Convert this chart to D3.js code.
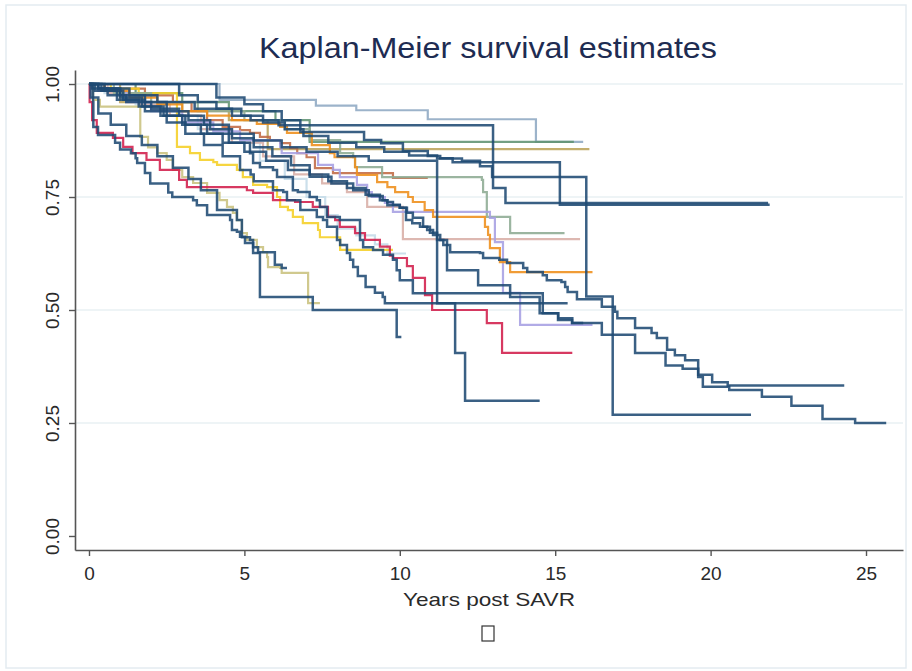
<!DOCTYPE html>
<html>
<head>
<meta charset="utf-8">
<script src="https://cdn.jsdelivr.net/npm/d3@7"></script>
<style>
body { margin: 0; background: #ffffff; }
text { font-family: "Liberation Sans", Arial, Helvetica, sans-serif; }
</style>
</head>
<body>
<svg id="graph"></svg>
<script>
// survival curves: [years, survival] pairs, last pair = end of follow-up
var kmA = [[0,1],[0.3,0.99],[1.0,0.975],[1.8,0.96],[2.5,0.94],[3.2,0.92],[3.9,0.90],[4.6,0.88],[5.3,0.86],[5.9,0.84],[6.5,0.82],[7.1,0.80],[7.7,0.785],[8.3,0.77],[8.9,0.755],[9.36,0.743],[9.6,0.739],[9.78,0.733],[10.0,0.726],[10.23,0.715],[10.42,0.704],[10.75,0.684],[10.97,0.671],[11.2,0.655],[11.4,0.644],[11.62,0.628],[12.58,0.626],[12.68,0.615],[13.2,0.611],[13.45,0.604],[13.97,0.593],[14.1,0.584],[14.6,0.577],[14.73,0.566],[15.2,0.562],[15.32,0.551],[15.4,0.540],[15.7,0.524],[16.5,0.507],[16.92,0.496],[17.0,0.482],[17.57,0.46],[18.1,0.449],[18.27,0.438],[18.6,0.412],[18.85,0.40],[19.18,0.389],[19.6,0.352],[19.75,0.330],[20.6,0.323],[21.65,0.308],[22.6,0.288],[23.6,0.259],[24.65,0.25],[25.65,0.25]]
var kmB = [[0,1],[0.2,0.985],[0.9,0.965],[1.6,0.95],[2.3,0.93],[3.0,0.91],[3.6,0.89],[4.3,0.87],[5.0,0.85],[5.7,0.83],[6.4,0.81],[7.1,0.795],[7.8,0.78],[8.5,0.765],[9.0,0.752],[9.45,0.743],[9.6,0.732],[10.0,0.726],[10.2,0.699],[10.4,0.692],[10.65,0.684],[10.88,0.677],[11.07,0.666],[11.3,0.655],[11.52,0.588],[12.52,0.555],[13.55,0.529],[14.5,0.493],[15.09,0.478],[15.54,0.471],[16.5,0.445],[17.57,0.405],[18.55,0.377],[19.1,0.37],[19.6,0.357],[20.05,0.34],[20.55,0.333],[24.3,0.333]]
var kmC = [[0,1],[2.9,0.975],[3.5,0.96],[4.1,0.945],[4.9,0.93],[5.6,0.915],[6.3,0.90],[6.9,0.885],[7.7,0.87],[8.6,0.86],[9.5,0.85],[10.3,0.842],[11.2,0.835],[12.0,0.83],[12.58,0.818],[12.97,0.794],[16.0,0.53],[16.85,0.268],[21.3,0.268]]
var kmD1 = [[0,1],[4.1,0.97],[5.0,0.955],[5.6,0.94],[6.2,0.92],[6.8,0.894],[8.85,0.876],[9.4,0.869],[10.1,0.852],[10.9,0.841],[11.3,0.836],[11.7,0.827],[15.15,0.733],[21.9,0.733]]
var kmD2 = [[0,1],[0.5,0.99],[1.3,0.975],[2.2,0.96],[3.4,0.945],[4.6,0.93],[5.2,0.92],[6.1,0.909],[13.0,0.77],[13.4,0.737],[21.85,0.737]]
var kmM = [[0,1],[0.1,0.99],[0.6,0.975],[1.2,0.96],[2.0,0.945],[2.9,0.93],[3.7,0.91],[4.5,0.89],[5.3,0.875],[6.2,0.86],[7.0,0.85],[8.0,0.84],[9.0,0.83],[11.2,0.515],[11.78,0.405],[12.1,0.299],[14.5,0.299]]
var kmN = [[0,1],[0.05,0.97],[0.3,0.935],[0.7,0.91],[1.2,0.885],[1.7,0.865],[2.2,0.84],[2.7,0.815],[3.2,0.79],[3.6,0.765],[4.12,0.721],[4.76,0.699],[4.92,0.661],[5.18,0.655],[5.28,0.626],[5.5,0.529],[7.2,0.50],[9.9,0.44],[10.05,0.44]]
var kmU = [[0,1],[0.4,0.985],[1.1,0.965],[1.8,0.94],[2.5,0.915],[3.1,0.89],[3.7,0.865],[4.3,0.84],[4.86,0.81],[5.2,0.80],[5.3,0.785],[5.92,0.765],[6.25,0.761],[6.37,0.743],[6.8,0.721],[7.33,0.706],[7.53,0.699],[7.66,0.684],[7.98,0.655],[8.08,0.644],[8.3,0.626],[8.4,0.611],[8.5,0.595],[8.65,0.575],[8.9,0.551],[9.2,0.538],[9.45,0.529],[9.52,0.515],[15.4,0.515]]
var kmV = [[0,1],[0.13,0.96],[0.14,0.905],[0.29,0.887],[0.84,0.87],[1.0,0.855],[1.35,0.847],[1.5,0.836],[1.55,0.825],[1.8,0.803],[1.97,0.78],[2.55,0.76],[2.68,0.75],[3.35,0.743],[3.47,0.732],[3.8,0.71],[4.54,0.699],[4.6,0.677],[4.76,0.673],[4.86,0.662],[5.02,0.648],[5.28,0.639],[5.44,0.628],[5.98,0.6],[6.2,0.593],[6.37,0.593]]
var kmW = [[0,1],[0.3,0.99],[1.0,0.97],[1.7,0.95],[2.4,0.93],[3.1,0.91],[3.8,0.89],[4.5,0.87],[5.18,0.847],[5.28,0.825],[5.5,0.816],[5.92,0.81],[6.05,0.794],[6.56,0.765],[6.72,0.761],[7.1,0.75],[7.33,0.743],[7.43,0.728],[7.66,0.706],[8.07,0.699],[8.72,0.655],[8.82,0.639],[9.14,0.633],[9.46,0.622],[9.78,0.611],[9.9,0.588],[10.0,0.566],[10.42,0.537],[14.6,0.493],[15.1,0.482],[15.55,0.471],[15.9,0.471]]
var kmE = [[0,1],[4.2,0.965],[7.3,0.952],[8.6,0.942],[10.9,0.922],[14.38,0.872],[15.9,0.872]]
var kmF = [[0,1],[1.5,0.98],[3.0,0.96],[4.5,0.94],[6.0,0.92],[7.1,0.872],[15.6,0.872]]
var kmG = [[0,1],[1.0,0.96],[3.0,0.94],[4.5,0.92],[5.75,0.856],[16.1,0.856]]
var kmH = [[0,1],[0.5,0.985],[1.3,0.97],[2.2,0.955],[3.0,0.94],[3.8,0.93],[4.6,0.92],[5.4,0.912],[6.15,0.905],[6.37,0.892],[7.17,0.865],[7.75,0.847],[7.9,0.838],[8.56,0.816],[8.62,0.799],[9.27,0.783],[9.6,0.772],[9.85,0.761],[10.27,0.75],[10.42,0.739],[10.8,0.721],[11.07,0.706],[12.74,0.684],[12.84,0.666],[12.9,0.637],[13.22,0.606],[13.55,0.584],[16.2,0.584]]
var kmI = [[0,1],[0.8,0.98],[2.0,0.96],[3.5,0.94],[5.0,0.92],[6.3,0.90],[7.1,0.876],[8.08,0.847],[8.5,0.838],[8.56,0.816],[9.43,0.794],[12.64,0.788],[12.68,0.761],[12.8,0.706],[13.55,0.670],[15.3,0.670]]
var kmJ = [[0,1],[0.6,0.98],[1.6,0.955],[2.6,0.93],[3.6,0.90],[4.6,0.87],[5.6,0.84],[6.6,0.80],[7.5,0.78],[8.3,0.761],[8.95,0.728],[10.1,0.657],[15.8,0.657]]
var kmK = [[0,1],[0.3,0.985],[1.2,0.96],[2.0,0.94],[3.0,0.915],[4.0,0.895],[4.86,0.876],[6.15,0.861],[6.2,0.847],[7.37,0.821],[7.85,0.81],[8.07,0.794],[8.62,0.777],[8.95,0.761],[9.1,0.75],[9.52,0.737],[9.78,0.717],[12.9,0.704],[13.06,0.650],[13.32,0.538],[13.87,0.467],[16.2,0.467]]
var kmL = [[0,1],[0.02,0.96],[0.1,0.92],[0.25,0.892],[0.77,0.881],[1.1,0.861],[1.4,0.847],[1.85,0.832],[2.28,0.81],[2.9,0.788],[3.15,0.772],[5.08,0.765],[5.28,0.759],[5.92,0.743],[6.63,0.739],[7.2,0.728],[7.69,0.706],[7.92,0.699],[8.07,0.684],[8.56,0.670],[8.88,0.655],[9.36,0.64],[9.68,0.62],[9.78,0.615],[10.23,0.597],[10.42,0.571],[10.81,0.533],[11.04,0.50],[12.8,0.471],[13.29,0.405],[15.55,0.405]]
var kmP = [[0,1],[0.13,0.965],[0.35,0.95],[1.65,0.883],[1.9,0.86],[2.2,0.847],[2.5,0.832],[2.7,0.81],[3.0,0.794],[3.35,0.781],[3.8,0.759],[4.2,0.743],[4.44,0.728],[4.63,0.715],[4.76,0.699],[4.92,0.67],[5.08,0.655],[5.4,0.639],[5.6,0.628],[5.73,0.617],[5.76,0.595],[6.15,0.593],[6.2,0.582],[7.05,0.515],[7.43,0.515]]
var kmQ = [[0,1],[0.7,0.99],[1.6,0.98],[2.83,0.861],[3.25,0.847],[3.57,0.832],[4.0,0.827],[4.12,0.821],[4.76,0.81],[4.95,0.794],[5.28,0.777],[5.73,0.772],[6.05,0.75],[6.15,0.728],[6.4,0.721],[6.56,0.706],[6.88,0.692],[7.37,0.677],[7.43,0.661],[8.08,0.633],[9.78,0.633]]
var kmR = [[0,1],[0.5,0.98],[1.5,0.955],[2.5,0.93],[3.5,0.90],[4.5,0.87],[5.5,0.83],[6.3,0.79],[7.0,0.75],[7.6,0.71],[8.0,0.68],[8.6,0.665],[9.2,0.645],[9.6,0.625],[10.2,0.625]]
var kmS = [[0,1],[0.5,0.99],[1.8,0.975],[2.7,0.96],[3.3,0.94],[3.8,0.92],[4.3,0.905],[4.86,0.898],[5.18,0.892],[5.5,0.883],[5.82,0.876],[6.15,0.869],[6.47,0.858],[6.7,0.847],[7.0,0.838],[7.27,0.814],[7.85,0.803],[9.78,0.792],[10.9,0.792]]

var xTicks = [0,5,10,15,20,25]
var yTicks = [0,0.25,0.5,0.75,1]
var gridValues = [0.25,0.5,0.75,1]

var curves = [
    {data:kmE, color:"#8ea8c3"},
    {data:kmF, color:"#5f9272"},
    {data:kmG, color:"#bba35a"},
    {data:kmR, color:"#c4dbe8"},
    {data:kmJ, color:"#d8aea6"},
    {data:kmS, color:"#c06a44"},
    {data:kmP, color:"#cac27e"},
    {data:kmQ, color:"#f5cf25"},
    {data:kmI, color:"#8dab93"},
    {data:kmK, color:"#a69fe2"},
    {data:kmH, color:"#ee8e1a"},
    {data:kmL, color:"#d21e4b"},
    {data:kmA, color:"#1f4a73"},
    {data:kmB, color:"#1f4a73"},
    {data:kmC, color:"#1f4a73"},
    {data:kmD1, color:"#1f4a73"},
    {data:kmD2, color:"#1f4a73"},
    {data:kmM, color:"#1f4a73"},
    {data:kmN, color:"#1f4a73"},
    {data:kmU, color:"#1f4a73"},
    {data:kmV, color:"#1f4a73"},
    {data:kmW, color:"#1f4a73"}
]

var screen = {width:912, height:671}

var svg = d3.select("#graph")
    .attr("width",screen.width)
    .attr("height",screen.height)

svg.append("rect")
    .attr("x",6).attr("y",5)
    .attr("width",900).attr("height",663)
    .attr("fill","none")
    .attr("stroke","#e4ebf1")
    .attr("stroke-width",1.5)

var xscale = d3.scaleLinear()
    .domain([-0.45,26.19])
    .range([75,903])

var yscale = d3.scaleLinear()
    .domain([-0.031,1.031])
    .range([550,70])

svg.append("g")
    .selectAll("line")
    .data(gridValues)
    .enter()
    .append("line")
    .attr("x1",xscale.range()[0])
    .attr("x2",xscale.range()[1])
    .attr("y1",function(d){ return yscale(d) })
    .attr("y2",function(d){ return yscale(d) })
    .attr("stroke","#e9f1f3")
    .attr("stroke-width",1.5)

var stepLine = d3.line()
    .x(function(d){ return xscale(d[0]) })
    .y(function(d){ return yscale(d[1]) })
    .curve(d3.curveStepAfter)

svg.append("g")
    .selectAll("path")
    .data(curves)
    .enter()
    .append("path")
    .attr("d",function(c){ return stepLine(c.data) })
    .attr("fill","none")
    .attr("stroke",function(c){ return c.color })
    .attr("stroke-width",function(c){ return c.color=="#1f4a73" ? 2.5 : 2.2 })
    .attr("stroke-opacity",0.88)

var xAxis = svg.append("g")
    .attr("transform","translate(0,550)")
    .call(d3.axisBottom(xscale).tickValues(xTicks).tickSize(6).tickSizeOuter(0).tickPadding(11))

var yAxis = svg.append("g")
    .attr("transform","translate(75,0)")
    .call(d3.axisLeft(yscale).tickValues(yTicks).tickFormat(d3.format(".2f")).tickSize(6).tickSizeOuter(0))

svg.selectAll(".domain")
    .attr("stroke","#555")
    .attr("stroke-width",1.6)
svg.selectAll(".tick line")
    .attr("stroke","#555")
    .attr("stroke-width",1.4)

xAxis.selectAll("text")
    .attr("font-size",19)
    .attr("fill","#2a2a2a")

yAxis.selectAll("text")
    .attr("x",null)
    .attr("dy",null)
    .attr("y",-16)
    .attr("transform","rotate(-90)")
    .attr("text-anchor","middle")
    .attr("font-size",19)
    .attr("fill","#2a2a2a")

svg.append("text")
    .attr("x",488)
    .attr("y",58)
    .attr("text-anchor","middle")
    .attr("font-size",30)
    .attr("fill","#1e2c52")
    .attr("textLength",458)
    .attr("lengthAdjust","spacingAndGlyphs")
    .text("Kaplan-Meier survival estimates")

svg.append("text")
    .attr("x",489)
    .attr("y",606)
    .attr("text-anchor","middle")
    .attr("font-size",19)
    .attr("fill","#2a2a2a")
    .attr("textLength",172)
    .attr("lengthAdjust","spacingAndGlyphs")
    .text("Years post SAVR")

svg.append("rect")
    .attr("x",482).attr("y",626)
    .attr("width",12).attr("height",15)
    .attr("fill","none")
    .attr("stroke","#333")
    .attr("stroke-width",1.2)
</script>
</body>
</html>
